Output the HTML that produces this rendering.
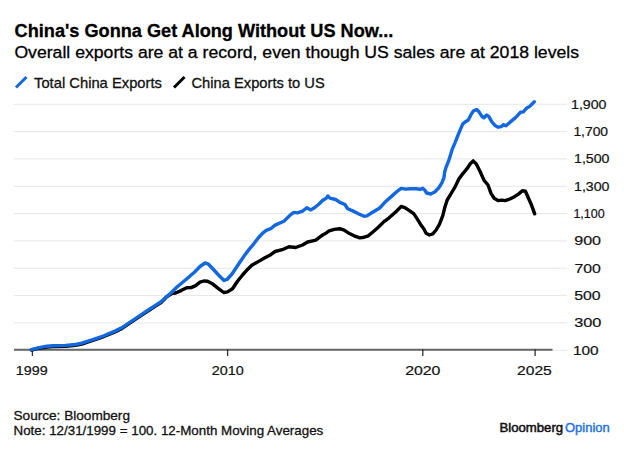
<!DOCTYPE html>
<html><head><meta charset="utf-8"><style>html,body{margin:0;padding:0;background:#fff;width:624px;height:450px;overflow:hidden;position:relative}</style></head>
<body>
<svg width="624" height="450" viewBox="0 0 624 450" style="position:absolute;left:0;top:0">
<rect width="624" height="450" fill="#fff"/>
<text x="14.60" y="36.5" font-family='"Liberation Sans", sans-serif' font-weight="bold" font-size="18" fill="#000" stroke="#000" stroke-width="0.3" textLength="378.78" lengthAdjust="spacingAndGlyphs">China's Gonna Get Along Without US Now...</text>
<text x="14.40" y="57.8" font-family='"Liberation Sans", sans-serif' font-weight="normal" font-size="17.4" fill="#000" stroke="#000" stroke-width="0.3" textLength="564.64" lengthAdjust="spacingAndGlyphs">Overall exports are at a record, even though US sales are at 2018 levels</text>
<text x="34.00" y="87.8" font-family='"Liberation Sans", sans-serif' font-weight="normal" font-size="14.5" fill="#111" stroke="#111" stroke-width="0.3" textLength="127.95" lengthAdjust="spacingAndGlyphs">Total China Exports</text>
<text x="191.50" y="87.8" font-family='"Liberation Sans", sans-serif' font-weight="normal" font-size="14.5" fill="#111" stroke="#111" stroke-width="0.3" textLength="133.20" lengthAdjust="spacingAndGlyphs">China Exports to US</text>
<text x="571.00" y="108.7" font-family='"Liberation Sans", sans-serif' font-weight="normal" font-size="13.2" fill="#111" stroke="#111" stroke-width="0.2" textLength="35.49" lengthAdjust="spacingAndGlyphs">1,900</text>
<text x="573.40" y="136.0" font-family='"Liberation Sans", sans-serif' font-weight="normal" font-size="13.2" fill="#111" stroke="#111" stroke-width="0.2" textLength="34.69" lengthAdjust="spacingAndGlyphs">1,700</text>
<text x="574.00" y="163.4" font-family='"Liberation Sans", sans-serif' font-weight="normal" font-size="13.2" fill="#111" stroke="#111" stroke-width="0.2" textLength="35.52" lengthAdjust="spacingAndGlyphs">1,500</text>
<text x="574.00" y="190.7" font-family='"Liberation Sans", sans-serif' font-weight="normal" font-size="13.2" fill="#111" stroke="#111" stroke-width="0.2" textLength="35.52" lengthAdjust="spacingAndGlyphs">1,300</text>
<text x="573.40" y="218.0" font-family='"Liberation Sans", sans-serif' font-weight="normal" font-size="13.2" fill="#111" stroke="#111" stroke-width="0.2" textLength="31.37" lengthAdjust="spacingAndGlyphs">1,100</text>
<text x="574.20" y="245.4" font-family='"Liberation Sans", sans-serif' font-weight="normal" font-size="13.2" fill="#111" stroke="#111" stroke-width="0.2" textLength="26.84" lengthAdjust="spacingAndGlyphs">900</text>
<text x="574.40" y="272.7" font-family='"Liberation Sans", sans-serif' font-weight="normal" font-size="13.2" fill="#111" stroke="#111" stroke-width="0.2" textLength="26.43" lengthAdjust="spacingAndGlyphs">700</text>
<text x="574.20" y="300.0" font-family='"Liberation Sans", sans-serif' font-weight="normal" font-size="13.2" fill="#111" stroke="#111" stroke-width="0.2" textLength="26.47" lengthAdjust="spacingAndGlyphs">500</text>
<text x="574.20" y="327.4" font-family='"Liberation Sans", sans-serif' font-weight="normal" font-size="13.2" fill="#111" stroke="#111" stroke-width="0.2" textLength="27.26" lengthAdjust="spacingAndGlyphs">300</text>
<text x="573.00" y="354.7" font-family='"Liberation Sans", sans-serif' font-weight="normal" font-size="13.2" fill="#111" stroke="#111" stroke-width="0.2" textLength="25.70" lengthAdjust="spacingAndGlyphs">100</text>
<text x="15.80" y="374.9" font-family='"Liberation Sans", sans-serif' font-weight="normal" font-size="13.2" fill="#111" stroke="#111" stroke-width="0.2" textLength="31.90" lengthAdjust="spacingAndGlyphs">1999</text>
<text x="211.80" y="374.9" font-family='"Liberation Sans", sans-serif' font-weight="normal" font-size="13.2" fill="#111" stroke="#111" stroke-width="0.2" textLength="32.07" lengthAdjust="spacingAndGlyphs">2010</text>
<text x="405.20" y="374.9" font-family='"Liberation Sans", sans-serif' font-weight="normal" font-size="13.2" fill="#111" stroke="#111" stroke-width="0.2" textLength="35.24" lengthAdjust="spacingAndGlyphs">2020</text>
<text x="517.00" y="374.9" font-family='"Liberation Sans", sans-serif' font-weight="normal" font-size="13.2" fill="#111" stroke="#111" stroke-width="0.2" textLength="34.80" lengthAdjust="spacingAndGlyphs">2025</text>
<text x="13.50" y="419.6" font-family='"Liberation Sans", sans-serif' font-weight="normal" font-size="13.4" fill="#111" stroke="#111" stroke-width="0.3" textLength="116.45" lengthAdjust="spacingAndGlyphs">Source: Bloomberg</text>
<text x="13.50" y="434.7" font-family='"Liberation Sans", sans-serif' font-weight="normal" font-size="13.4" fill="#111" stroke="#111" stroke-width="0.3" textLength="309.76" lengthAdjust="spacingAndGlyphs">Note: 12/31/1999 = 100. 12-Month Moving Averages</text>
<text x="499.50" y="431.6" font-family='"Liberation Sans", sans-serif' font-weight="normal" font-size="12.2" fill="#111" stroke="#111" stroke-width="0.5" textLength="63.64" lengthAdjust="spacingAndGlyphs">Bloomberg</text>
<text x="565.00" y="431.6" font-family='"Liberation Sans", sans-serif' font-weight="normal" font-size="12.0" fill="#1F72E2" stroke="#1F72E2" stroke-width="0.4" textLength="44.69" lengthAdjust="spacingAndGlyphs">Opinion</text>
<line x1="16" y1="87.5" x2="26.5" y2="77" stroke="#1368E0" stroke-width="3"/>
<line x1="174" y1="87.5" x2="184.5" y2="77" stroke="#000" stroke-width="3"/>
<line x1="14" y1="104.25" x2="567" y2="104.25" stroke="#e6e6e6" stroke-width="1"/>
<line x1="14" y1="131.58" x2="567" y2="131.58" stroke="#e6e6e6" stroke-width="1"/>
<line x1="14" y1="158.92" x2="567" y2="158.92" stroke="#e6e6e6" stroke-width="1"/>
<line x1="14" y1="186.25" x2="567" y2="186.25" stroke="#e6e6e6" stroke-width="1"/>
<line x1="14" y1="213.58" x2="567" y2="213.58" stroke="#e6e6e6" stroke-width="1"/>
<line x1="14" y1="240.92" x2="567" y2="240.92" stroke="#e6e6e6" stroke-width="1"/>
<line x1="14" y1="268.25" x2="567" y2="268.25" stroke="#e6e6e6" stroke-width="1"/>
<line x1="14" y1="295.58" x2="567" y2="295.58" stroke="#e6e6e6" stroke-width="1"/>
<line x1="14" y1="322.92" x2="567" y2="322.92" stroke="#e6e6e6" stroke-width="1"/>
<line x1="14" y1="350.25" x2="567" y2="350.25" stroke="#e6e6e6" stroke-width="1"/>
<line x1="14" y1="349.8" x2="552.5" y2="349.8" stroke="#666" stroke-width="2"/>
<line x1="32.4" y1="349" x2="32.4" y2="356" stroke="#333" stroke-width="1.3"/>
<line x1="227.6" y1="349" x2="227.6" y2="356" stroke="#333" stroke-width="1.3"/>
<line x1="422.8" y1="349" x2="422.8" y2="356" stroke="#333" stroke-width="1.3"/>
<line x1="535.1" y1="349" x2="535.1" y2="356" stroke="#333" stroke-width="1.3"/>
<path d="M31.5,350.0 L38.0,348.3 L46.8,347.1 L53.0,346.6 L65.5,346.2 L75.5,345.3 L81.8,344.1 L90.5,341.2 L95.0,339.7 L101.7,337.5 L108.3,334.7 L115.0,331.9 L121.7,328.6 L128.3,324.1 L135.0,319.7 L141.7,315.2 L148.3,310.8 L155.0,306.4 L161.1,302.5 L166.7,296.7 L172.2,293.3 L175.6,293.0 L181.1,290.6 L186.7,287.8 L191.1,287.6 L195.6,285.6 L200.0,282.2 L203.8,281.0 L207.5,281.2 L212.5,283.8 L218.8,288.8 L223.8,292.5 L227.5,291.9 L232.5,288.8 L237.5,281.2 L242.5,275.0 L247.5,269.4 L251.8,265.3 L259.1,261.1 L264.4,258.0 L269.8,255.3 L275.1,251.5 L282.2,249.7 L289.0,246.7 L295.7,247.5 L302.5,245.0 L307.6,242.0 L312.6,240.8 L315.7,240.1 L321.4,235.8 L326.4,232.9 L328.5,231.2 L334.2,229.4 L339.9,228.7 L344.1,230.1 L348.4,232.9 L354.1,235.8 L359.8,237.9 L364.1,237.2 L368.3,235.8 L372.6,232.2 L378.3,227.3 L384.0,221.6 L389.1,217.8 L395.1,212.5 L401.2,206.5 L404.2,207.3 L409.4,210.6 L413.9,213.9 L417.2,218.9 L420.6,224.4 L423.9,228.9 L426.1,233.3 L429.4,235.0 L432.8,233.9 L436.1,230.0 L439.4,224.4 L442.8,215.6 L445.0,206.7 L447.2,200.0 L450.6,194.4 L455.3,186.5 L458.7,179.3 L463.1,173.3 L467.0,168.7 L470.1,164.0 L473.2,160.9 L476.3,164.0 L479.5,170.2 L484.1,180.4 L488.0,185.0 L491.1,193.6 L494.2,198.2 L498.1,200.6 L502.0,200.1 L505.1,200.6 L509.8,199.0 L514.5,196.7 L519.1,193.6 L522.3,190.8 L525.4,191.2 L528.5,198.2 L531.6,205.3 L534.7,213.8" fill="none" stroke="#000" stroke-width="3.4" stroke-linejoin="round" stroke-linecap="round"/>
<path d="M31.5,349.6 L38.0,347.9 L46.8,346.2 L53.0,345.8 L65.5,345.4 L75.5,344.5 L81.8,343.2 L90.5,340.4 L95.0,338.9 L101.7,336.7 L108.3,333.9 L115.0,331.1 L121.7,327.8 L128.3,323.3 L135.0,318.9 L141.7,314.4 L148.3,310.0 L155.0,305.6 L161.1,301.7 L166.7,296.7 L171.1,292.8 L176.7,287.2 L183.3,281.7 L190.0,276.1 L194.4,272.2 L200.0,266.5 L205.0,263.0 L208.0,263.8 L213.0,269.0 L219.0,275.5 L224.0,280.5 L227.0,279.5 L232.0,274.0 L236.0,268.0 L240.0,262.0 L244.9,254.9 L249.3,249.1 L253.8,243.8 L258.2,238.0 L262.7,233.1 L266.2,230.4 L270.7,228.7 L275.1,225.1 L283.9,221.3 L290.7,214.6 L294.0,212.4 L297.4,212.9 L302.5,211.2 L306.7,207.8 L310.9,209.9 L314.3,207.8 L318.5,204.5 L322.8,200.2 L326.4,198.1 L327.8,196.0 L329.9,198.1 L335.6,199.5 L339.9,202.4 L344.9,204.5 L347.7,208.8 L352.7,210.9 L358.4,213.7 L364.1,216.3 L366.9,215.9 L372.6,212.3 L379.7,208.0 L386.0,201.2 L392.1,195.9 L398.1,190.6 L401.2,188.4 L405.7,189.1 L410.2,188.7 L416.3,188.8 L420.0,189.3 L422.7,188.3 L424.7,190.0 L426.7,193.0 L430.7,194.0 L434.7,192.0 L438.7,188.0 L442.0,182.7 L444.0,177.3 L444.7,172.0 L446.0,167.3 L448.7,160.7 L452.2,149.4 L455.0,142.8 L457.8,135.6 L460.6,128.9 L462.8,123.9 L465.6,121.7 L468.3,120.0 L471.1,114.4 L473.3,111.1 L476.7,109.4 L478.9,111.7 L481.7,116.1 L483.9,117.8 L486.7,115.0 L488.9,116.7 L491.7,121.7 L495.4,125.8 L498.3,127.2 L501.2,126.6 L503.6,124.7 L506.0,125.8 L509.8,122.4 L513.7,119.1 L516.5,116.7 L520.4,112.3 L523.3,111.9 L526.2,108.5 L530.0,106.1 L534.3,101.8" fill="none" stroke="#1368E0" stroke-width="3.4" stroke-linejoin="round" stroke-linecap="round"/>
</svg>
</body></html>
